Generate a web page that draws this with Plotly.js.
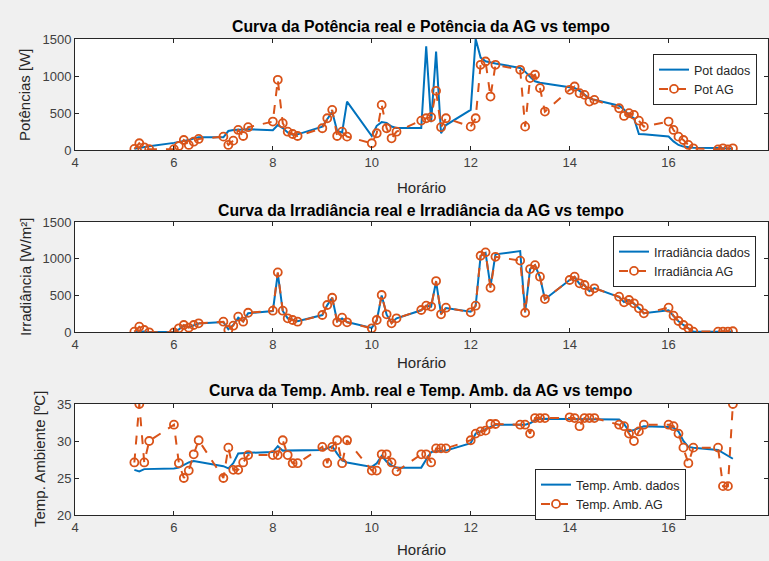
<!DOCTYPE html>
<html><head><meta charset="utf-8">
<script src="https://cdn.plot.ly/plotly-3.0.1.min.js"></script>
<style>html,body{margin:0;padding:0;background:#f0f0f0;} #chart{width:769px;height:561px;}</style>
</head><body><div id="chart"></div><script>
// Horário (h)
const horario = [5.2,5.3,5.4,5.5,
  6.0,6.1,6.2,6.3,6.4,6.5, 7.0,7.1,7.2,7.3,7.4,7.5, 8.0,8.1,8.2,8.3,8.4,8.5,
  9.0,9.1,9.2,9.3,9.4,9.5, 10.0,10.1,10.2,10.3,10.4,10.5, 11.0,11.1,11.2,11.3,11.4,11.5,
  12.0,12.1,12.2,12.3,12.4,12.5, 13.0,13.1,13.2,13.3,13.4,13.5, 14.0,14.1,14.2,14.3,14.4,14.5,
  15.0,15.1,15.2,15.3,15.4,15.5, 16.0,16.1,16.2,16.3,16.4,16.5, 17.0,17.1,17.2,17.3];

const potDados = [20,35,45,55, 100,110,125,140,160,175, 175,260,275,280,285,285, 270,340,300,240,210,215,
  319,420,520,260,240,657, 193,330,380,370,320,300, 300,1400,380,1330,230,340,
  545,1500,1250,1200,1180,1170, 1110,1060,990,930,910,900, 860,840,800,750,700,680,
  600,550,470,432,220,215, 185,120,72,50,40,35, 30,25,20,20];
const potAG = [18,95,40,15, 15,58,139,72,116,153, 184,72,130,274,193,311, 387,950,365,251,220,193,
  297,432,545,193,251,184, 95,230,612,297,162,251, 400,432,446,801,311,432,
  319,432,1152,1197,724,1152, 1085,319,973,1018,838,522, 815,860,770,747,657,680,
  567,463,500,477,400,319, 387,274,184,139,72,27, 13,27,13,27];

const irrDados = [5,10,10,5, 5,40,90,70,100,120, 140,40,100,200,150,260, 290,800,290,190,170,150,
  235,370,470,150,190,140, 60,160,500,240,130,190, 300,360,350,690,250,330,
  280,360,1040,1080,620,1060, 1104,270,860,910,750,450, 711,750,660,640,560,600,
  480,410,440,390,330,260, 300,220,150,100,55,10, 8,8,8,12];
const irrAG = [8,76,31,0, 0,54,99,63,99,122, 144,31,90,212,144,266, 294,815,294,190,167,144,
  235,371,470,136,199,136, 54,167,507,245,122,190, 303,362,350,697,245,335,
  272,362,1041,1087,606,1027, 975,266,860,914,756,452, 711,756,666,643,552,598,
  484,408,439,394,326,258, 335,226,154,99,54,8, 8,8,8,14];

const tempDados = [26.1,25.9,26.2,26.2, 26.3,26.4,26.8,27.1,27.3,27.2, 26.6,26.3,27.0,28.3,28.4,28.4,
  28.5,29.3,28.7,28.7,28.7,28.8, 28.8,29.0,29.3,28.3,27.4,27.1, 26.5,27.0,28.0,27.2,26.7,26.4,
  26.4,27.5,28.5,28.6,28.6,28.7, 29.7,31.0,31.3,31.6,32.0,32.2, 32.2,32.2,32.4,32.8,33.0,33.0,
  32.9,32.9,32.9,32.9,32.9,32.9, 32.9,32.3,31.3,31.5,31.8,32.0, 31.9,31.8,31.3,30.0,29.2,29.1,
  28.8,28.4,28.0,27.6];
const tempAG = [27.1,35.0,27.1,30.0, 32.2,27.0,25.0,26.0,28.2,30.1, 25.0,29.1,26.1,26.1,27.1,28.1,
  28.1,28.1,30.1,28.1,27.0,27.0, 29.2,27.0,29.2,30.1,27.0,30.1, 26.0,26.0,28.2,28.2,27.1,25.9,
  28.2,28.2,27.1,29.0,29.0,29.0, 30.1,31.0,31.3,31.4,32.3,32.3, 32.2,32.2,31.0,33.1,33.1,33.1,
  33.2,33.1,32.0,33.1,33.1,33.1, 32.2,32.0,31.0,30.0,31.3,32.2, 32.2,32.0,31.0,29.1,27.0,29.1,
  29.1,23.9,23.9,35.0];

const xTicks = [4,6,8,10,12,14,16,18];
const yTicksA = [0,500,1000,1500];
const yTicksT = [20,25,30,35];

const BLUE = '#0072BD', ORANGE = '#D95319', AX = '#262626';
const FONT = 'Liberation Sans, Arial, Helvetica, sans-serif';

function dados(y, name, n, leg) {
  return {x: horario, y: y, name: name, type: 'scatter', mode: 'lines',
    xaxis: 'x' + n, yaxis: 'y' + n, legend: leg,
    line: {color: BLUE, width: 2}};
}
function ag(y, name, n, leg) {
  return {x: horario, y: y, name: name, type: 'scatter', mode: 'lines+markers',
    xaxis: 'x' + n, yaxis: 'y' + n, legend: leg,
    line: {color: ORANGE, width: 2, dash: 'dash'},
    marker: {symbol: 'circle-open', size: 8, color: ORANGE, line: {color: ORANGE, width: 1.8}}};
}

const traces = [
  dados(potDados, 'Pot dados', '', 'legend'),
  ag(potAG, 'Pot AG', '', 'legend'),
  dados(irrDados, 'Irradiância dados', '2', 'legend2'),
  ag(irrAG, 'Irradiância AG', '2', 'legend2'),
  dados(tempDados, 'Temp. Amb. dados', '3', 'legend3'),
  ag(tempAG, 'Temp. Amb. AG', '3', 'legend3')
];

const XD = [75/769, 767.5/769];
function xax(anchor) {
  return {domain: XD, anchor: anchor, range: [4, 18], tickvals: xTicks, ticks: 'inside', ticklen: 4,
    tickcolor: AX, mirror: 'allticks', showline: true, linecolor: AX, linewidth: 1,
    showgrid: false, zeroline: false, tickfont: {family: FONT, size: 13, color: '#404040'}};
}
function yax(anchor, dom, range, tv) {
  return {domain: dom, anchor: anchor, range: range, tickvals: tv, ticks: 'inside', ticklen: 4,
    tickcolor: AX, mirror: 'allticks', showline: true, linecolor: AX, linewidth: 1,
    showgrid: false, zeroline: false, tickfont: {family: FONT, size: 13, color: '#404040'}};
}
function py(top, bottom) { return [(561 - bottom) / 561, (561 - top) / 561]; }
function legend(x, y) {
  return {x: x, y: y, xanchor: 'left', yanchor: 'top', bgcolor: '#ffffff', bordercolor: AX, borderwidth: 1,
    font: {family: FONT, size: 12.5, color: '#262626'}, itemwidth: 30, tracegroupgap: 0};
}
function txt(text, x, y, size, angle, bold) {
  return {text: bold ? '<b>' + text + '</b>' : text, x: x / 769, y: (561 - y) / 561, xref: 'paper', yref: 'paper',
    xanchor: 'center', yanchor: 'middle', showarrow: false, textangle: angle || 0,
    font: {family: FONT, size: size, color: bold ? '#000' : '#262626'}};
}

const layout = {
  width: 769, height: 561, margin: {l: 0, r: 0, t: 0, b: 0},
  paper_bgcolor: '#f0f0f0', plot_bgcolor: '#ffffff', showlegend: true,
  xaxis: xax('y'), yaxis: yax('x', py(39, 150.3), [0, 1500], yTicksA),
  xaxis2: xax('y2'), yaxis2: yax('x2', py(222, 332.3), [0, 1500], yTicksA),
  xaxis3: xax('y3'), yaxis3: yax('x3', py(404, 515), [20, 35], yTicksT),
  legend: legend(653 / 769, (561 - 54) / 561),
  legend2: legend(613 / 769, (561 - 236) / 561),
  legend3: legend(535 / 769, (561 - 469) / 561),
  annotations: [
    txt('Curva da Potência real e Potência da AG vs tempo', 421, 27, 15.8, 0, true),
    txt('Curva da Irradiância real e Irradiância da AG vs tempo', 421, 210, 15.8, 0, true),
    txt('Curva da Temp. Amb. real e Temp. Amb. da AG vs tempo', 421, 390, 15.8, 0, true),
    txt('Horário', 421, 187, 15),
    txt('Horário', 421, 362, 15),
    txt('Horário', 421, 549, 15),
    txt('Potências [W]', 25, 95, 15, -90),
    txt('Irradiância [W/m²]', 25, 277, 15, -90),
    txt('Temp. Ambiente [ºC]', 40, 459, 15, -90)
  ]
};

Plotly.newPlot('chart', traces, layout, {displayModeBar: false, staticPlot: true});
</script></body></html>
